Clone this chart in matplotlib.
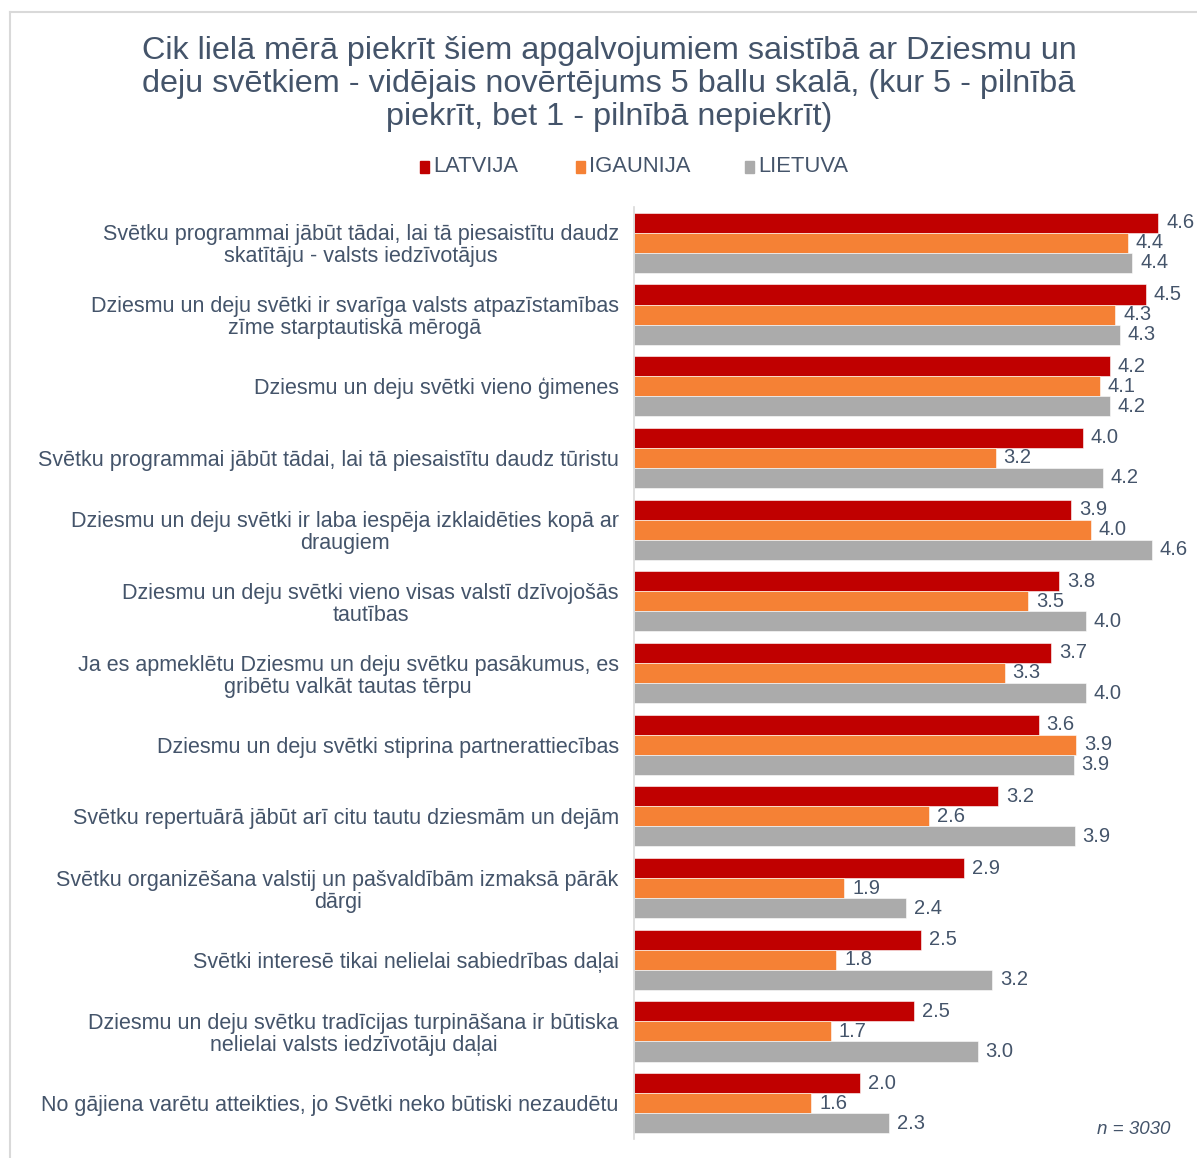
import matplotlib

matplotlib.use("Agg")
import matplotlib.pyplot as plt
from matplotlib.lines import Line2D
from matplotlib.patches import Rectangle
import numpy as np

plt.rcParams["font.family"] = ["Liberation Sans", "DejaVu Sans"]

TEXT = "#44546A"
COLORS = ["#C00000", "#F58135", "#ABABAB"]

title = ("Cik lielā mērā piekrīt šiem apgalvojumiem saistībā ar Dziesmu un\n"
         "deju svētkiem - vidējais novērtējums 5 ballu skalā, (kur 5 - pilnībā\n"
         "piekrīt, bet 1 - pilnībā nepiekrīt)")

series = ["LATVIJA", "IGAUNIJA", "LIETUVA"]

categories = [
    "Svētku programmai jābūt tādai, lai tā piesaistītu daudz\nskatītāju - valsts iedzīvotājus",
    "Dziesmu un deju svētki ir svarīga valsts atpazīstamības\nzīme starptautiskā mērogā",
    "Dziesmu un deju svētki vieno ģimenes",
    "Svētku programmai jābūt tādai, lai tā piesaistītu daudz tūristu",
    "Dziesmu un deju svētki ir laba iespēja izklaidēties kopā ar\ndraugiem",
    "Dziesmu un deju svētki vieno visas valstī dzīvojošās\ntautības",
    "Ja es apmeklētu Dziesmu un deju svētku pasākumus, es\ngribētu valkāt tautas tērpu",
    "Dziesmu un deju svētki stiprina partnerattiecības",
    "Svētku repertuārā jābūt arī citu tautu dziesmām un dejām",
    "Svētku organizēšana valstij un pašvaldībām izmaksā pārāk\ndārgi",
    "Svētki interesē tikai nelielai sabiedrības daļai",
    "Dziesmu un deju svētku tradīcijas turpināšana ir būtiska\nnelielai valsts iedzīvotāju daļai",
    "No gājiena varētu atteikties, jo Svētki neko būtiski nezaudētu",
]

latvija = [4.64, 4.53, 4.21, 3.97, 3.87, 3.76, 3.69, 3.58, 3.22, 2.92, 2.54, 2.48, 2.00]
igaunija = [4.37, 4.26, 4.12, 3.20, 4.04, 3.49, 3.28, 3.91, 2.61, 1.86, 1.79, 1.74, 1.57]
lietuva = [4.41, 4.30, 4.21, 4.15, 4.58, 4.00, 4.00, 3.89, 3.90, 2.41, 3.17, 3.04, 2.26]

note = "n = 3030"

W, H = 1197, 1158
fig = plt.figure(figsize=(W / 100, H / 100), dpi=100)
fig.patch.set_facecolor("white")

# outer frame (top and left edges visible)
fig.add_artist(Line2D([10 / W, 1.0], [1 - 12 / H, 1 - 12 / H], color="#d9d9d9", linewidth=1.5))
fig.add_artist(Line2D([10 / W, 10 / W], [0.0, 1 - 12 / H], color="#d9d9d9", linewidth=1.5))

ax_left, ax_right = 634, 634 + 565
ax_top, ax_bottom = 207, 1139
ax = fig.add_axes([ax_left / W, 1 - ax_bottom / H, (ax_right - ax_left) / W, (ax_bottom - ax_top) / H])

y = np.arange(len(categories))
h = 0.28
for k, vals in enumerate([latvija, igaunija, lietuva]):
    pos = y + (k - 1) * h
    ax.barh(pos, vals, height=h, color=COLORS[k], edgecolor="white", linewidth=0.4)
    for p, v in zip(pos, vals):
        ax.text(v + 0.07, p, f"{v:.1f}", va="center", ha="left", fontsize=14.5, color=TEXT)

ax.set_xlim(0, 5)
ax.set_ylim(len(categories) - 0.5, -0.5)
ax.set_xticks([])
ax.set_yticks(y)
ax.set_yticklabels(categories, fontsize=15.5, color=TEXT, multialignment="center", linespacing=1.07)
ax.tick_params(axis="y", length=0, pad=11)
for lbl in ax.get_yticklabels():
    lbl.set_y(lbl.get_position()[1])
for s in ["top", "right", "bottom"]:
    ax.spines[s].set_visible(False)
ax.spines["left"].set_color("#d9d9d9")
ax.spines["left"].set_linewidth(1.2)

fig.text(609 / W, 1 - 84 / H, title, ha="center", va="center", fontsize=23.3,
         color=TEXT, linespacing=1.15)

# legend
leg_x = [420, 576, 745]
for k, name in enumerate(series):
    fig.add_artist(Rectangle((leg_x[k] / W, 1 - 173 / H), 9 / W, 12 / H, color=COLORS[k]))
    fig.text((leg_x[k] + 13) / W, 1 - 167 / H, name, ha="left", va="center", fontsize=15.8, color=TEXT)

fig.text(1170 / W, 1 - 1130 / H, note, ha="right", va="center", fontsize=13.5,
         style="italic", color=TEXT)

fig.savefig("out.png", dpi=100)
